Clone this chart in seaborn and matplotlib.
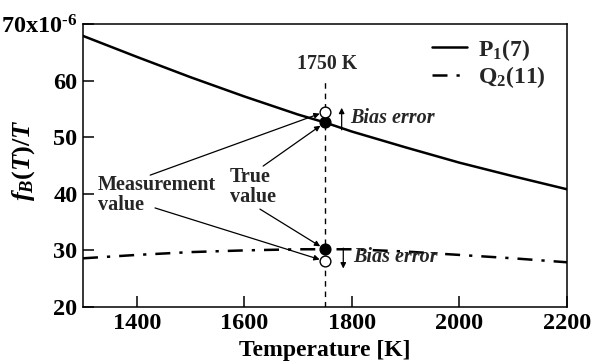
import matplotlib
matplotlib.use("Agg")
import matplotlib.pyplot as plt
import seaborn as sns
import pandas as pd

# Temperature grid [K] and line-strength ratio curves f_B(T)/T (x1e-6)
temperature = [1300, 1400, 1500, 1600, 1700, 1750, 1800, 1900, 2000, 2100, 2200]
p1_values = [67.9, 64.2, 60.6, 57.2, 54.0, 52.6, 51.0, 48.2, 45.5, 43.1, 40.8]
q2_values = [28.6, 29.2, 29.7, 30.0, 30.2, 30.2, 30.2, 29.8, 29.2, 28.6, 27.9]
series_names = ["P$_1$(7)", "Q$_2$(11)"]

# Evaluation temperature and the values at that point
eval_temp = 1750
true_vals = [52.6, 30.2]
meas_vals = [54.5, 28.1]

x_ticks = [1400, 1600, 1800, 2000, 2200]
y_ticks = [20, 30, 40, 50, 60, 70]
y_tick_labels = ["20", "30", "40", "50", "60", "70x10$^{\\text{-}6}$"]

sns.set_style("ticks")
plt.rcParams["font.family"] = ["Liberation Serif", "DejaVu Serif"]
plt.rcParams["font.weight"] = "bold"
plt.rcParams["mathtext.fontset"] = "custom"
plt.rcParams["mathtext.rm"] = "Liberation Serif:bold"
plt.rcParams["mathtext.bf"] = "Liberation Serif:bold"
plt.rcParams["mathtext.it"] = "Liberation Serif:italic:bold"

df = pd.DataFrame({
    "T": temperature * 2,
    "val": p1_values + q2_values,
    "series": [series_names[0]] * len(temperature) + [series_names[1]] * len(temperature),
})

fig = plt.figure(figsize=(5.91, 3.61), dpi=100)
ax = fig.add_axes([0.1404, 0.1496, 0.819, 0.7839])

sns.lineplot(data=df, x="T", y="val", style="series", color="black", linewidth=1.8,
             dashes={series_names[0]: "", series_names[1]: (6.0, 3.6, 1.3, 3.6)},
             ax=ax, legend=True)

# Vertical guide at the evaluation temperature
ax.vlines(eval_temp, 20, 60.5, colors="black", linestyles=(0, (4, 3.5)), linewidth=1.0, zorder=1)
ax.text(eval_temp + 4, 63.0, "1750 K", ha="center", va="center", fontsize=14.3)

# True (filled) and measured (open) values
sns.scatterplot(x=[eval_temp] * 2, y=true_vals, color="black", s=60, edgecolor="black",
                linewidth=1.0, zorder=5, ax=ax, legend=False)
sns.scatterplot(x=[eval_temp] * 2, y=meas_vals, color="white", s=60, edgecolor="black",
                linewidth=1.0, zorder=5, ax=ax, legend=False)

arrow = dict(arrowstyle="-|>", color="black", lw=0.9, mutation_scale=8, shrinkA=0, shrinkB=4)
ax.text(1328, 39.8, "Measurement\nvalue", ha="left", va="center", fontsize=14.5, linespacing=1.0)
ax.annotate("", xy=(eval_temp, meas_vals[0]), xytext=(1425, 43.3), arrowprops=arrow)
ax.annotate("", xy=(eval_temp, meas_vals[1]), xytext=(1434, 37.5), arrowprops=arrow)

ax.text(1573, 41.2, "True\nvalue", ha="left", va="center", fontsize=14.5, linespacing=1.0)
ax.annotate("", xy=(eval_temp, true_vals[0]), xytext=(1635, 44.9), arrowprops=arrow)
ax.annotate("", xy=(eval_temp, true_vals[1]), xytext=(1629, 37.3), arrowprops=arrow)

bias_arrow = dict(arrowstyle="-|>", color="black", lw=0.9, mutation_scale=8, shrinkA=0, shrinkB=0)
ax.annotate("", xy=(1781, 55.2), xytext=(1781, 51.3), arrowprops=bias_arrow)
ax.text(1797, 53.4, "Bias error", style="italic", ha="left", va="center", fontsize=14.5)
ax.annotate("", xy=(1784, 26.8), xytext=(1784, 30.4), arrowprops=bias_arrow)
ax.text(1802, 28.8, "Bias error", style="italic", ha="left", va="center", fontsize=14.5)

ax.set_xlim(1300, 2200)
ax.set_ylim(20, 70)
ax.set_xticks(x_ticks)
ax.set_yticks(y_ticks)
ax.set_yticklabels(y_tick_labels)
ax.tick_params(direction="in", length=8, width=1.1, labelsize=17.5, pad=4, color="black",
               labelcolor="black", bottom=True, left=True, top=False, right=False)
for s in ax.spines.values():
    s.set_linewidth(1.1)
    s.set_color("black")
    s.set_visible(True)

ax.set_xlabel("Temperature [K]", fontsize=17, fontweight="bold", color="black")
ax.set_ylabel("$f_B(T)/T$", fontsize=19, color="black")
ax.xaxis.set_label_coords(0.5, -0.115)
ax.yaxis.set_label_coords(-0.095, 0.52)

leg = ax.legend(loc="upper right", bbox_to_anchor=(1.0, 1.03), frameon=False, fontsize=17,
                handlelength=1.5, handletextpad=0.45, labelspacing=0.05)
for h in leg.get_lines():
    h.set_linewidth(1.8)

fig.savefig("out.png", dpi=100)
